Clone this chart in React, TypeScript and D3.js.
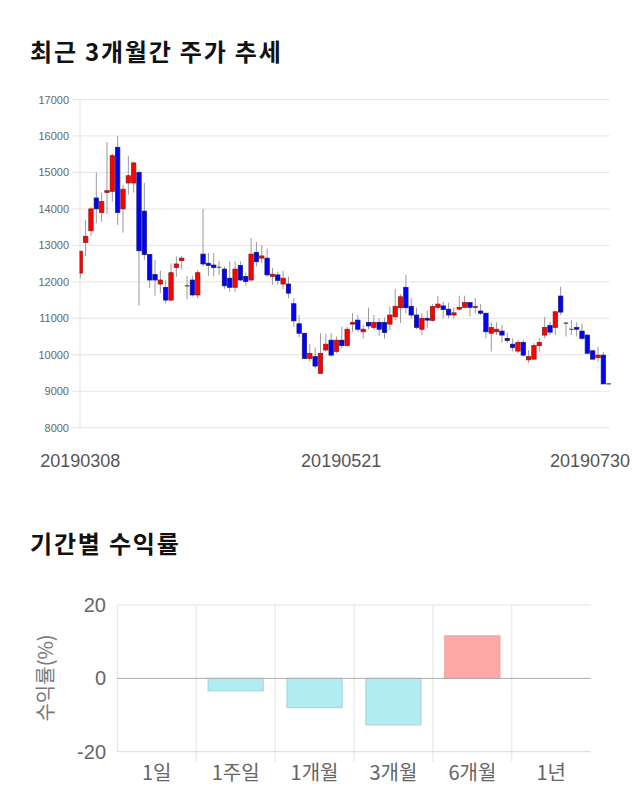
import React from "react";
import * as d3 from "d3";

const dates: string[] = [
  "20190308","20190311","20190312","20190313","20190314","20190315","20190318","20190319","20190320","20190321",
  "20190322","20190325","20190326","20190327","20190328","20190329","20190401","20190402","20190403","20190404",
  "20190405","20190408","20190409","20190410","20190411","20190412","20190415","20190416","20190417","20190418",
  "20190419","20190422","20190423","20190424","20190425","20190426","20190429","20190430","20190502","20190503",
  "20190507","20190508","20190509","20190510","20190513","20190514","20190515","20190516","20190517","20190520",
  "20190521","20190522","20190523","20190524","20190527","20190528","20190529","20190530","20190531","20190603",
  "20190604","20190605","20190607","20190610","20190611","20190612","20190613","20190614","20190617","20190618",
  "20190619","20190620","20190621","20190624","20190625","20190626","20190627","20190628","20190701","20190702",
  "20190703","20190704","20190705","20190708","20190709","20190710","20190711","20190712","20190715","20190716",
  "20190717","20190718","20190719","20190722","20190723","20190724","20190725","20190726","20190729","20190730",
];

const opens: number[] = [
  12240,13080,13400,14300,13900,14450,14480,15690,14000,14710,
  14710,15000,13940,12750,12200,11940,11850,11500,12390,12580,
  11890,12050,11640,12760,12510,12460,12400,12350,12100,11850,
  12450,12150,12050,12810,12650,12650,12150,12190,11940,11940,
  11400,10850,10590,9900,9950,9490,10130,10400,10090,10400,
  10250,10840,10950,10630,10890,10750,10890,10890,10840,11040,
  11290,11850,11330,11090,10700,11000,10940,11300,11340,11250,
  11090,11250,11300,11430,11300,11200,11140,10590,10630,10650,
  10450,10290,10100,10340,9860,9880,10250,10540,10800,10750,
  11610,10870,10700,10750,10650,10540,10110,9920,9990,9200,
];
const highs: number[] = [
  12850,13700,14050,15000,14450,15830,15510,16000,14660,15460,
  15300,15050,14710,12750,12600,12310,12040,12510,12700,12710,
  12160,12160,12330,14000,12790,12790,12570,12420,12560,12560,
  12560,12250,13200,13090,13010,12910,12380,12280,12300,12140,
  11550,11090,10600,10300,10200,10590,10570,10590,10500,10770,
  10770,11140,11090,10820,11290,11090,11000,11020,11320,11810,
  11660,12190,11550,11290,11140,11210,11390,11610,11450,11430,
  11300,11620,11620,11430,11550,11390,11140,10890,10890,10820,
  10610,10450,10410,10410,10130,10320,10450,11040,10910,11180,
  11870,10890,10950,10890,10860,10560,10110,10220,10080,9200,
];
const lows: number[] = [
  12100,12700,13250,13600,13650,13860,14200,13560,13350,14390,
  14450,11350,12600,11830,11620,11690,11410,11460,12140,12330,
  11520,11600,11550,12420,12160,12150,12190,11800,11730,11730,
  12020,11890,12010,12420,12510,12140,11920,11920,11800,11550,
  10760,10480,9890,9810,9630,9490,10090,9950,10040,10180,
  10200,10630,10630,10450,10700,10680,10510,10440,10680,10950,
  10870,11140,11000,10700,10540,10730,10910,11220,11000,11000,
  11000,11210,11300,11050,11140,11090,10450,10090,10540,10330,
  10320,10090,10040,9950,9770,9860,10090,10450,10540,10540,
  11090,10500,10540,10500,10410,10040,9880,9810,9200,9200,
];
const closes: number[] = [
  12840,13250,14000,14000,14200,14500,15460,13900,14540,14910,
  15260,12850,12750,12050,12050,12050,11500,12250,12490,12650,
  11890,11640,12250,12490,12450,12390,12400,11890,11850,12350,
  12050,12010,12760,12550,12710,12190,12210,12040,12100,11690,
  10930,10590,9900,10040,9690,10040,10290,9990,10400,10250,
  10700,10890,10700,10700,10790,10890,10700,10610,11090,11330,
  11590,11290,11090,10750,11000,10950,11320,11390,11240,11090,
  11150,11300,11430,11300,11320,11140,10630,10750,10700,10540,
  10390,10200,10340,9990,9950,10250,10340,10750,10620,11180,
  11170,10870,10700,10700,10450,10040,9880,9990,9200,9200,
];

const priceTicks: number[] = [8000, 9000, 10000, 11000, 12000, 13000, 14000, 15000, 16000, 17000];
const dateTickLabels: string[] = ["20190308", "20190521", "20190730"];

const periods: string[] = ["1일", "1주일", "1개월", "3개월", "6개월", "1년"];
const returns: number[] = [0, -3.4, -8.0, -12.7, 11.6, 0];
const returnTicks: number[] = [-20, 0, 20];

const NUM_FONT = "'Liberation Sans', Arial, 'Noto Sans CJK KR', sans-serif";
const KR_FONT = "'Noto Sans CJK KR', 'Liberation Sans', sans-serif";

export default function App() {
  // candlestick chart scales
  const x = d3.scalePoint<string>().domain(dates).range([80.3, 608.7]);
  const y = d3.scaleLinear().domain([8000, 17000]).range([427.7, 99.5]);
  const bodyW = 4.4;

  // bar chart scales
  const bx = d3.scaleBand<string>().domain(periods).range([117.3, 590.7]).paddingInner(0.3).paddingOuter(0.15);
  const by = d3.scaleLinear().domain([-20, 20]).range([751.7, 605]);
  const step = bx.step();
  const bandStart = 117.3;

  return (
    <svg
      width={640}
      height={810}
      style={{ position: "absolute", left: 0, top: 0, background: "#fff" }}
    >
      <defs>
        <clipPath id="plotClip">
          <rect x={79.5} y={90} width={540} height={345} />
        </clipPath>
      </defs>

      {/* Title 1 */}
      <text x={30} y={61} fontFamily={KR_FONT} fontWeight="bold" fontSize={24} letterSpacing={1.8} fill="#111">
        최근 3개월간 주가 추세
      </text>

      {/* price grid */}
      {priceTicks.map((t) => (
        <g key={t}>
          <line x1={72} x2={610} y1={y(t)} y2={y(t)} stroke="#e6e6e6" strokeWidth={1} />
          <text x={69} y={y(t) + 4} textAnchor="end" fontFamily={NUM_FONT} fontSize={11} fill="#666">
            {t}
          </text>
        </g>
      ))}
      <line x1={80} x2={80} y1={99.5} y2={427.7} stroke="#e0e0e0" strokeWidth={1} />

      {/* candles */}
      <g clipPath="url(#plotClip)">
        {dates.map((d, i) => {
          const cx = x(d) as number;
          const o = opens[i];
          const c = closes[i];
          const up = c > o;
          const down = c < o;
          const top = y(Math.max(o, c));
          const bot = y(Math.min(o, c));
          const fill = up ? "#ff0000" : down ? "#0000ff" : "#444";
          const stroke = up ? "#8a1a1a" : down ? "#1a1a6a" : "#444";
          return (
            <g key={d}>
              <line x1={cx} x2={cx} y1={y(highs[i])} y2={y(lows[i])} stroke="#999" strokeWidth={1} />
              {up || down ? (
                <rect
                  x={cx - bodyW / 2}
                  y={top}
                  width={bodyW}
                  height={Math.max(bot - top, 1)}
                  fill={fill}
                  stroke={stroke}
                  strokeWidth={0.7}
                />
              ) : (
                <line x1={cx - bodyW / 2} x2={cx + bodyW / 2} y1={top} y2={top} stroke={fill} strokeWidth={1.2} />
              )}
            </g>
          );
        })}
      </g>

      {/* date labels */}
      {dateTickLabels.map((lab, k) => {
        const px = x(lab) as number;
        const isLast = k === dateTickLabels.length - 1;
        const isMid = k > 0 && !isLast;
        return (
          <text
            key={lab}
            x={isLast ? Math.min(px + 40, 630) : isMid ? px - 6 : px}
            y={467}
            textAnchor={isLast ? "end" : "middle"}
            fontFamily={NUM_FONT}
            fontSize={18}
            fill="#555"
          >
            {lab}
          </text>
        );
      })}

      {/* Title 2 */}
      <text x={30} y={553} fontFamily={KR_FONT} fontWeight="bold" fontSize={24} letterSpacing={1.8} fill="#111">
        기간별 수익률
      </text>

      {/* bar chart grid */}
      {periods.map((p, k) => (
        <line
          key={"v" + p}
          x1={bandStart + k * step}
          x2={bandStart + k * step}
          y1={605}
          y2={k === 0 ? 751.7 : 762}
          stroke="#e3e3e3"
          strokeWidth={1}
        />
      ))}
      <line x1={117.3} x2={590.7} y1={by(20)} y2={by(20)} stroke="#e3e3e3" strokeWidth={1} />
      <line x1={117.3} x2={590.7} y1={by(-20)} y2={by(-20)} stroke="#d9d9d9" strokeWidth={1} />

      {/* bars */}
      {periods.map((p, k) => {
        const v = returns[k];
        if (v === 0) return null;
        const y0 = by(Math.max(0, v));
        const y1 = by(Math.min(0, v));
        const pos = v > 0;
        return (
          <rect
            key={p}
            x={bx(p) as number}
            y={y0}
            width={bx.bandwidth()}
            height={y1 - y0}
            fill={pos ? "#ffa8a8" : "#b2ebf2"}
            stroke={pos ? "#eea0a0" : "#9fd6de"}
            strokeWidth={1}
          />
        );
      })}
      <line x1={117.3} x2={590.7} y1={by(0)} y2={by(0)} stroke="#aaa" strokeWidth={1} />

      {/* bar y ticks */}
      {returnTicks.map((t) => (
        <text key={t} x={106} y={by(t) + 7} textAnchor="end" fontFamily={NUM_FONT} fontSize={20} fill="#666">
          {t}
        </text>
      ))}
      <text
        transform={`translate(53, 678) rotate(-90)`}
        textAnchor="middle"
        fontFamily={KR_FONT}
        fontSize={20}
        fill="#777"
      >
        수익률(%)
      </text>

      {/* bar x labels */}
      {periods.map((p) => (
        <text
          key={"l" + p}
          x={(bx(p) as number) + bx.bandwidth() / 2}
          y={780}
          textAnchor="middle"
          fontFamily={KR_FONT}
          fontSize={20}
          fill="#666"
        >
          {p}
        </text>
      ))}
    </svg>
  );
}
